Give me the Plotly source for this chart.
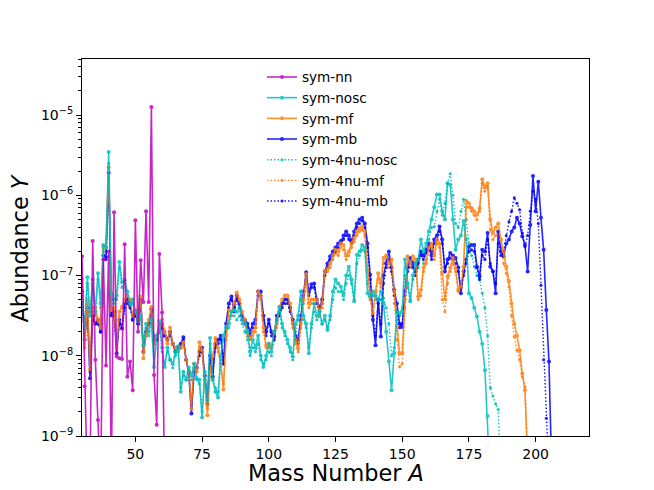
import plotly.graph_objects as go

# log10 of abundance Y, one value per mass number starting at the given A
start_nn = 30
log_nn = [-6.76, -8.38, -9.6, -9.5, -6.57, -8.05, -8.8, -9.6, -6.8, -8.12,
          -6.7, -9.5, -6.21, -8.01, -8.03, -8.04, -6.61, -8.26, -8.07, -8.43,
          -6.31, -7.7, -6.81, -7.33, -6.2, -7.33, -4.9, -8.24, -8.86, -6.73,
          -7.46, -9.6]

start_nosc = 30
log_nosc = [-7.3, -7.65, -7.02, -7.5, -7.05, -7.45, -6.97, -7.35, -6.63, -6.65,
            -5.46, -7.23, -7.3, -7.25, -6.83, -7.08, -7.06, -7.2, -7.35, -7.3,
            -7.45, -7.57, -7.5, -7.87, -7.6, -7.7, -7.55, -8.14, -7.75, -7.57,
            -7.9, -8.14, -7.9, -8.05, -8.1, -7.95, -7.88, -8.45, -8.2, -8.3,
            -8.15, -8.25, -8.1, -8.28, -8.3, -8.77, -8.2, -8.55, -7.78, -8.3,
            -8.45, -8.52, -8.0, -7.75, -7.64, -7.6, -7.45, -7.43, -7.45, -7.4,
            -7.55, -7.6, -7.7, -7.95, -7.8, -7.9, -7.75, -8.0, -8.14, -8.0,
            -7.85, -7.95, -7.7, -7.55, -7.39, -7.6, -7.7, -7.8, -7.9, -8.01,
            -7.6, -7.5, -7.2, -7.5, -7.6, -7.97, -7.6, -7.35, -7.5, -7.45,
            -7.6, -7.5, -7.68, -7.5, -7.2, -7.05, -7.1, -7.14, -7.24, -7.0,
            -6.89, -7.05, -7.32, -6.74, -6.7, -6.62, -6.65, -7.22, -7.26, -7.2,
            -7.25, -7.3, -7.2, -7.35, -7.7, -8.07, -8.43, -7.97, -7.45, -7.47,
            -7.45, -6.8, -7.1, -7.32, -7.0, -6.85, -6.8, -6.55, -6.7, -6.6,
            -6.45, -6.3, -6.15, -5.99, -5.99, -6.2, -6.3, -5.85, -5.87, -6.3,
            -6.68, -6.55, -6.5, -6.32, -6.55, -7.22, -7.28, -7.4, -7.51, -7.7,
            -7.85, -8.18, -8.75, -9.6]

start_mf = 30
log_mf = [-7.05, -7.9, -7.3, -8.17, -7.4, -7.4, -7.55, -7.65, -6.62, -6.65,
          -5.65, -7.43, -7.4, -7.9, -7.45, -7.39, -7.3, -7.25, -7.3, -7.5,
          -7.43, -7.55, -7.26, -8.03, -7.75, -7.55, -7.39, -7.85, -7.75, -7.7,
          -7.55, -7.7, -7.85, -7.65, -7.85, -7.9, -7.95, -7.9, -7.83, -8.05,
          -8.18, -8.66, -8.1, -8.2, -7.83, -7.93, -8.3, -8.74, -8.2, -8.0,
          -7.78, -7.9, -8.1, -8.42, -7.75, -7.43, -7.45, -7.35, -7.21, -7.3,
          -7.45, -7.55, -7.7, -7.78, -7.7, -7.65, -7.2, -7.25, -7.65, -7.87,
          -7.85, -7.89, -7.7, -7.6, -7.4, -7.3, -7.25, -7.25, -7.35, -7.6,
          -7.8, -7.91, -7.6, -7.3, -6.98, -7.35, -7.3, -7.3, -7.3, -7.45,
          -7.35, -6.95, -6.92, -6.85, -6.75, -6.68, -6.7, -6.6, -6.62, -6.75,
          -6.7, -6.6, -6.53, -6.45, -6.41, -6.39, -6.45, -6.93, -7.26, -7.47,
          -7.2, -6.97, -7.1, -6.78, -6.75, -6.85, -6.8, -7.2, -7.64, -7.97,
          -7.97, -7.3, -6.76, -6.85, -6.76, -6.8, -7.26, -7.18, -6.9, -6.8,
          -6.65, -6.6, -6.75, -6.55, -6.6, -6.97, -7.3, -7.01, -6.9, -6.78,
          -6.91, -7.18, -7.14, -6.89, -6.07, -6.1, -6.16, -6.2, -6.24, -6.16,
          -5.8, -5.9, -5.85, -6.3, -6.47, -6.4, -6.35, -6.55, -6.7, -6.89,
          -7.07, -7.35, -7.6, -7.75, -7.93, -8.22, -8.43, -9.3]

start_mb = 30
log_mb = [-7.2, -7.8, -7.4, -8.28, -7.5, -7.6, -7.55, -7.7, -6.75, -6.77,
          -5.72, -7.49, -7.45, -7.97, -7.55, -7.66, -7.35, -7.3, -7.35, -7.55,
          -7.45, -7.6, -7.3, -7.95, -7.7, -7.6, -7.42, -7.8, -7.8, -7.7,
          -7.6, -7.75, -7.8, -7.7, -7.85, -7.95, -7.9, -7.85, -7.77, -8.05,
          -8.2, -8.72, -8.2, -8.15, -7.95, -7.9, -8.25, -8.6, -8.0, -8.26,
          -7.85, -7.8, -7.75, -8.1, -7.6, -7.35, -7.26, -7.4, -7.25, -7.35,
          -7.5, -7.55, -7.6, -7.7, -7.6, -7.55, -7.2, -7.2, -7.5, -7.7,
          -7.55, -7.7, -7.76, -7.5, -7.45, -7.35, -7.3, -7.3, -7.4, -7.55,
          -7.75, -7.8, -7.5, -7.2, -6.96, -7.2, -7.11, -7.1, -7.3, -7.4,
          -7.3, -6.95, -6.85, -6.76, -6.7, -6.65, -6.6, -6.57, -6.5, -6.45,
          -6.5, -6.57, -6.45, -6.35, -6.3, -6.28, -6.35, -6.6, -6.99, -7.55,
          -7.87, -7.3, -7.76, -7.0, -6.85, -6.7, -6.9, -7.18, -7.35, -7.6,
          -7.64, -7.2, -6.9, -6.78, -6.85, -6.95, -6.8, -6.7, -6.75, -6.68,
          -6.6, -6.75, -6.55, -6.5, -6.39, -6.55, -6.95, -6.8, -6.72, -6.75,
          -6.78, -6.9, -7.22, -6.95, -6.8, -6.64, -6.62, -6.62, -6.89, -7.01,
          -6.68, -6.7, -6.47, -6.89, -6.95, -7.22, -6.45, -6.7, -6.76, -6.6,
          -6.55, -6.45, -6.4, -6.28, -6.35, -6.51, -6.62, -6.95, -6.37, -5.76,
          -6.2, -5.83, -6.28, -6.68, -7.43, -8.07, -9.4]

start_4nu_nosc = 30
log_4nu_nosc = [-7.35, -7.6, -7.1, -7.45, -7.1, -7.5, -7.05, -7.4, -6.7, -6.7,
                -5.6, -7.3, -7.35, -7.3, -6.9, -7.15, -7.1, -7.25, -7.4, -7.35,
                -7.5, -7.6, -7.55, -7.85, -7.65, -7.75, -7.6, -8.1, -7.8, -7.6,
                -7.95, -8.1, -7.95, -8.05, -8.15, -8.0, -7.95, -8.4, -8.25, -8.3,
                -8.2, -8.3, -8.15, -8.3, -8.35, -8.7, -8.25, -8.5, -7.85, -8.3,
                -8.4, -8.45, -8.05, -7.8, -7.7, -7.65, -7.5, -7.5, -7.55, -7.5,
                -7.6, -7.7, -7.8, -8.0, -7.9, -7.95, -7.85, -8.05, -8.1, -8.05,
                -7.95, -8.0, -7.8, -7.6, -7.45, -7.65, -7.75, -7.85, -7.95, -8.05,
                -7.7, -7.55, -7.3, -7.55, -7.65, -7.9, -7.65, -7.45, -7.55, -7.5,
                -7.6, -7.55, -7.65, -7.55, -7.3, -7.15, -7.2, -7.2, -7.3, -7.1,
                -7.0, -7.1, -7.3, -6.85, -6.75, -6.68, -6.7, -7.1, -7.3, -7.25,
                -7.3, -7.35, -7.3, -7.28, -7.4, -7.6, -8.0, -7.9, -7.55, -7.5,
                -7.4, -7.0, -7.15, -7.3, -7.05, -6.95, -6.9, -6.7, -6.85, -6.7,
                -6.55, -6.4, -6.39, -6.2, -6.05, -6.25, -6.1, -5.85, -5.73, -6.0,
                -6.35, -6.4, -6.2, -6.05, -6.3, -6.6, -6.75, -6.89, -7.0, -7.05,
                -7.22, -7.4, -7.75, -8.4, -8.5, -8.6, -8.67, -9.6]

start_4nu_mf = 30
log_4nu_mf = [-7.1, -7.85, -7.35, -8.1, -7.45, -7.45, -7.6, -7.6, -6.65, -6.7,
              -5.66, -7.45, -7.45, -7.85, -7.5, -7.4, -7.35, -7.3, -7.35, -7.5,
              -7.45, -7.6, -7.3, -7.95, -7.75, -7.6, -7.45, -7.8, -7.75, -7.7,
              -7.6, -7.7, -7.8, -7.7, -7.85, -7.9, -7.95, -7.9, -7.85, -8.05,
              -8.2, -8.6, -8.15, -8.2, -7.9, -7.95, -8.3, -8.65, -8.2, -8.05,
              -7.8, -7.95, -8.1, -8.35, -7.8, -7.5, -7.5, -7.4, -7.25, -7.35,
              -7.5, -7.6, -7.75, -7.8, -7.75, -7.7, -7.25, -7.3, -7.7, -7.9,
              -7.9, -7.9, -7.75, -7.65, -7.45, -7.35, -7.3, -7.3, -7.4, -7.65,
              -7.85, -7.95, -7.65, -7.35, -7.05, -7.4, -7.35, -7.35, -7.35, -7.5,
              -7.4, -7.0, -6.95, -6.9, -6.8, -6.72, -6.75, -6.65, -6.68, -6.8,
              -6.75, -6.65, -6.58, -6.5, -6.45, -6.43, -6.5, -6.95, -7.3, -7.5,
              -7.25, -7.05, -7.15, -6.85, -6.8, -6.9, -6.9, -7.35, -7.8, -8.14,
              -8.1, -7.4, -6.85, -6.9, -6.82, -6.85, -7.3, -7.25, -6.95, -6.85,
              -6.7, -6.65, -6.8, -6.6, -6.65, -7.3, -7.45, -7.1, -6.95, -6.85,
              -6.95, -7.2, -7.15, -6.95, -6.15, -6.15, -6.2, -6.25, -6.3, -6.2,
              -5.85, -5.95, -5.9, -6.43, -6.55, -6.5, -6.45, -6.65, -6.85, -6.97,
              -7.14, -7.5, -7.76, -7.93, -8.05, -8.26, -8.39, -9.3]

start_4nu_mb = 30
log_4nu_mb = [-7.25, -7.75, -7.45, -8.2, -7.55, -7.6, -7.6, -7.7, -6.8, -6.8,
              -5.72, -7.5, -7.5, -7.9, -7.6, -7.65, -7.4, -7.35, -7.4, -7.55,
              -7.5, -7.6, -7.35, -7.9, -7.7, -7.6, -7.45, -7.8, -7.8, -7.7,
              -7.65, -7.75, -7.8, -7.75, -7.85, -7.95, -7.9, -7.9, -7.8, -8.05,
              -8.2, -8.65, -8.2, -8.15, -8.0, -7.95, -8.25, -8.55, -8.05, -8.2,
              -7.9, -7.85, -7.8, -8.1, -7.65, -7.4, -7.3, -7.45, -7.3, -7.4,
              -7.55, -7.6, -7.65, -7.75, -7.65, -7.6, -7.25, -7.25, -7.55, -7.75,
              -7.6, -7.75, -7.8, -7.55, -7.5, -7.4, -7.35, -7.35, -7.45, -7.6,
              -7.8, -7.85, -7.55, -7.25, -7.0, -7.25, -7.15, -7.15, -7.35, -7.45,
              -7.35, -7.0, -6.9, -6.8, -6.75, -6.7, -6.65, -6.6, -6.55, -6.5,
              -6.55, -6.6, -6.5, -6.4, -6.35, -6.32, -6.4, -6.65, -7.05, -7.5,
              -7.75, -7.35, -7.6, -7.1, -6.9, -6.8, -6.95, -7.25, -7.45, -7.65,
              -7.6, -7.25, -6.95, -6.85, -6.9, -7.0, -6.85, -6.75, -6.8, -6.72,
              -6.65, -6.8, -6.6, -6.55, -6.45, -6.6, -6.9, -6.85, -6.78, -6.8,
              -6.85, -6.95, -7.15, -7.0, -6.85, -6.7, -6.68, -6.7, -6.9, -7.05,
              -6.75, -6.8, -6.55, -6.85, -6.95, -7.1, -6.6, -6.75, -6.7, -6.5,
              -6.33, -6.2, -6.03, -6.1, -6.18, -6.47, -6.64, -6.5, -6.2, -5.95,
              -6.05, -6.35, -7.12, -8.05, -8.78, -9.5]

y_tick_vals = [1e-9, 1e-8, 1e-7, 1e-6, 1e-5]
y_tick_text = ["10<sup>\u22129</sup>", "10<sup>\u22128</sup>", "10<sup>\u22127</sup>",
               "10<sup>\u22126</sup>", "10<sup>\u22125</sup>"]
x_tick_vals = [50, 75, 100, 125, 150, 175, 200]

C_NN = "#bf00bf"
C_NOSC = "#00bfbf"
C_MF = "#ff7f0e"
C_MB = "#0000ff"

series = [
    # (name, start, logs, color, dash, legendrank)
    ("sym-4nu-nosc", start_4nu_nosc, log_4nu_nosc, C_NOSC, "1.5px,2px", 5),
    ("sym-4nu-mf", start_4nu_mf, log_4nu_mf, C_MF, "1.5px,2px", 6),
    ("sym-4nu-mb", start_4nu_mb, log_4nu_mb, C_MB, "1.5px,2px", 7),
    ("sym-mb", start_mb, log_mb, C_MB, "solid", 4),
    ("sym-mf", start_mf, log_mf, C_MF, "solid", 3),
    ("sym-nosc", start_nosc, log_nosc, C_NOSC, "solid", 2),
    ("sym-nn", start_nn, log_nn, C_NN, "solid", 1),
]

fig = go.Figure()
for name, start, logs, color, dash, rank in series:
    xs = list(range(start, start + len(logs)))
    ys = [10 ** v for v in logs]
    solid = dash == "solid"
    fig.add_trace(go.Scatter(
        x=xs, y=ys, name=name, mode="lines+markers",
        line=dict(color=color, width=1.6 if solid else 1.4, dash=dash),
        marker=dict(color=color, size=4 if solid else 3),
        opacity=0.85 if solid else 0.9,
        legendrank=rank,
    ))

fig.update_layout(
    width=654, height=490,
    margin=dict(l=82, r=65, t=59, b=54),
    paper_bgcolor="white", plot_bgcolor="white",
    font=dict(family="DejaVu Sans", size=14, color="black"),
    showlegend=True,
    legend=dict(x=0.355, y=0.993, xanchor="left", yanchor="top",
                bgcolor="rgba(0,0,0,0)", borderwidth=0,
                font=dict(size=13.6), itemwidth=30, tracegroupgap=0),
    annotations=[
        dict(text="Mass Number <i>A</i>", xref="paper", yref="paper",
             x=0.5, y=-0.097, xanchor="center", yanchor="middle",
             showarrow=False, font=dict(size=22.4)),
        dict(text="Abundance <i>Y</i>", xref="paper", yref="paper",
             x=-0.1224, y=0.5, xanchor="center", yanchor="middle",
             textangle=-90, showarrow=False, font=dict(size=22.4)),
    ],
)
fig.update_xaxes(
    range=[30, 220], tickvals=x_tick_vals,
    ticks="outside", ticklen=5, tickwidth=1, tickcolor="black",
    showline=True, linecolor="black", linewidth=1, mirror=True,
    showgrid=False, zeroline=False, automargin=False,
)
fig.update_yaxes(
    type="log", range=[-9, -4.301],
    tickvals=y_tick_vals, ticktext=y_tick_text,
    ticks="outside", ticklen=5, tickwidth=1, tickcolor="black",
    minor=dict(ticks="outside", ticklen=3, tickcolor="black", dtick="D1", showgrid=False),
    showline=True, linecolor="black", linewidth=1, mirror=True,
    showgrid=False, zeroline=False, automargin=False,
)

fig.write_html("out.html", config={"displayModeBar": False},
               post_script="document.body.style.margin='0';")
